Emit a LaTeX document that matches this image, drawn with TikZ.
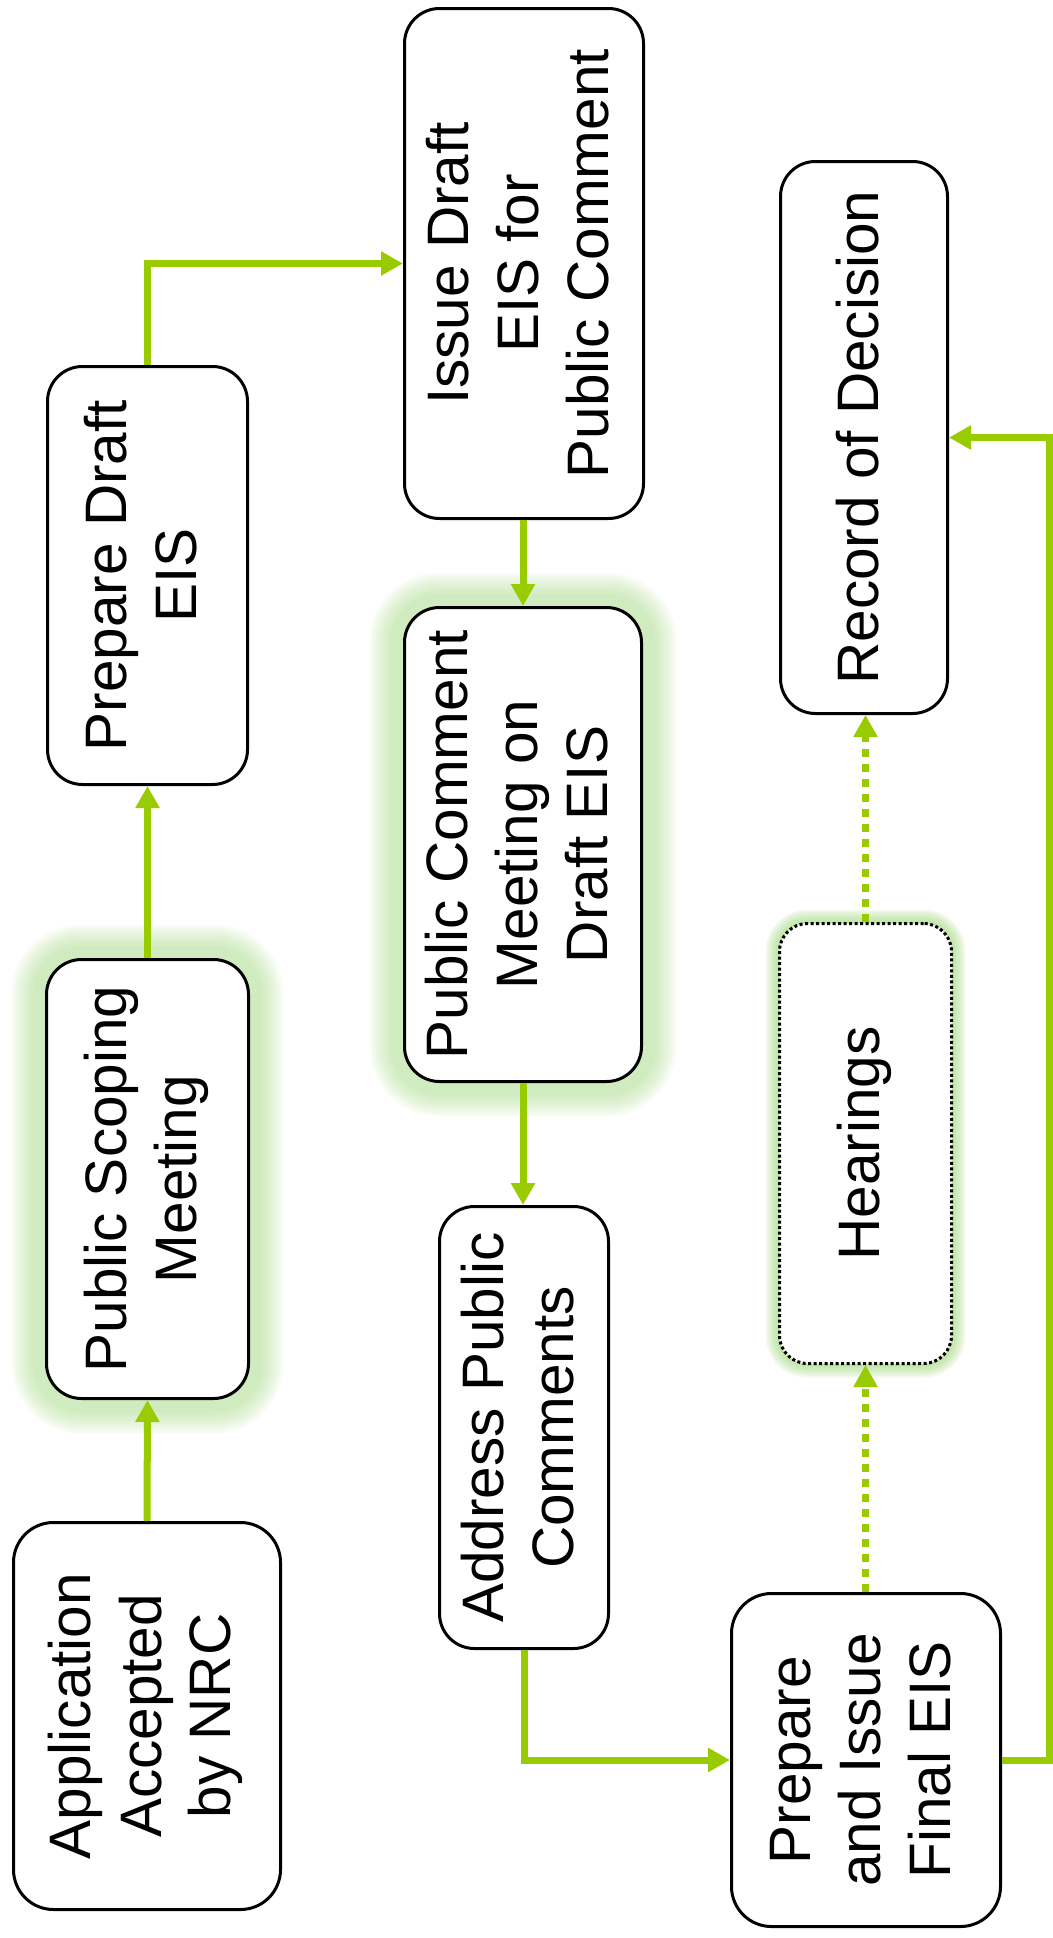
\documentclass[tikz,border=0pt]{standalone}
\usepackage{fontspec}
\setmainfont{Liberation Sans}
\usepackage{graphicx}
\usetikzlibrary{arrows.meta}
\definecolor{leaf}{RGB}{153,204,0}
\definecolor{halo}{RGB}{150,210,110}
\newcommand{\vlabel}[1]{\rotatebox{90}{\begin{tabular}{@{}c@{}}#1\end{tabular}}}
\tikzset{
    box/.style = {draw, line width=3pt, rounded corners=35pt, fill=white, inner sep=0pt,
        font=\fontsize{58.5}{70}\selectfont},
    halo ring/.style = {preaction={draw=halo, solid, opacity=0.07, line width=#1}},
    glow/.style = {halo ring/.list={70,64,...,28}},
    thin ring/.style = {preaction={draw=halo, solid, opacity=0.12, line width=#1}},
    thinglow/.style = {thin ring/.list={28,24,...,4}},
    flow/.style = {draw=leaf, line width=7pt, -{Triangle[length=22pt,width=23pt]}},
    maybe/.style = {flow, dash pattern=on 8pt off 7pt},
}

\begin{document}
\begin{tikzpicture}[x=1pt, y=-1pt]
    \useasboundingbox (0,0) rectangle (1052,1938);
    % left column
    \node[box, rounded corners=40pt, minimum width=267pt, minimum height=387pt] (app) at (147,1716) {\vlabel{Application\\Accepted\\by NRC}};
    \node[box, glow, minimum width=202pt, minimum height=439pt] (scope) at (147.5,1179) {\vlabel{Public Scoping\\Meeting}};
    \node[box, minimum width=200pt, minimum height=418pt] (prep) at (147.5,575.5) {\vlabel{Prepare Draft\\EIS}};
    % middle column
    \node[box, minimum width=239pt, minimum height=510pt] (issue) at (524,263.5) {\vlabel{Issue Draft\\EIS for\\Public Comment}};
    \node[box, glow, minimum width=237pt, minimum height=474pt] (pcm) at (523,844.5) {\vlabel{Public Comment\\Meeting on\\Draft EIS}};
    \node[box, minimum width=169pt, minimum height=442pt] (addr) at (524,1427.5) {\vlabel{Address Public\\Comments}};
    % right column
    \node[box, rounded corners=40pt, minimum width=269pt, minimum height=333pt] (final) at (866,1760) {\vlabel{Prepare\\and Issue\\Final EIS}};
    \node[box, thinglow, rounded corners=28pt, dash pattern=on 3pt off 2.5pt, minimum width=172pt, minimum height=440pt] (hear) at (865.5,1143.5) {\vlabel{Hearings}};
    \node[box, minimum width=167pt, minimum height=552pt] (rod) at (864,437.5) {\vlabel{Record of Decision}};
    \coordinate (rim) at (1049,0); % right edge

    \draw[flow] (app.north) -- (scope.south);
    \draw[flow] (scope.north) -- (prep.south);
    \draw[flow] (prep.north) |- (issue.west);
    \draw[flow] (issue.south -| pcm.north) -- (pcm.north);
    \draw[flow] (pcm.south) -- (pcm.south |- addr.north);
    \draw[flow] (addr.south) |- (final.west);
    \draw[maybe] (final.north -| hear.south) -- (hear.south);
    \draw[maybe] (hear.north) -- (hear.north |- rod.south);
    \draw[flow] (final.east) -- (final.east -| rim) |- (rod.east);
\end{tikzpicture}
\end{document}
